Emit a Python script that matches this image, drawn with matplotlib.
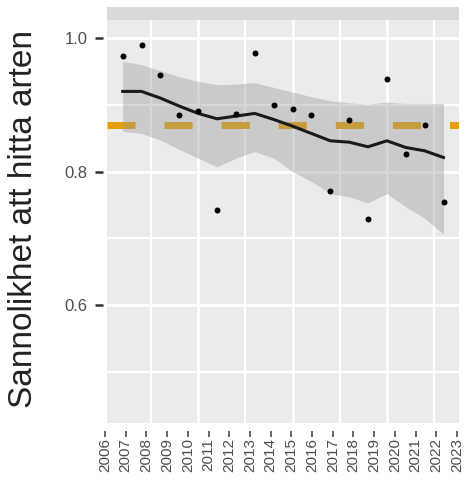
import matplotlib
matplotlib.use("Agg")
import matplotlib.pyplot as plt

plt.rcParams["font.family"] = ["Liberation Sans", "DejaVu Sans"]
plt.rcParams["lines.scale_dashes"] = False

# Yearly detection probability with fitted trend and confidence band
years = list(range(2006, 2024))
observed = [0.973, 0.990, 0.944, 0.884, 0.891, 0.742, 0.886, 0.978, 0.900,
            0.894, 0.884, 0.771, 0.877, 0.729, 0.939, 0.826, 0.869, 0.754]
trend = [0.920, 0.920, 0.910, 0.898, 0.887, 0.879, 0.883, 0.887, 0.878,
         0.868, 0.857, 0.846, 0.844, 0.837, 0.846, 0.836, 0.831, 0.821]
upper = [0.965, 0.960, 0.951, 0.942, 0.935, 0.930, 0.931, 0.933, 0.926,
         0.919, 0.912, 0.906, 0.903, 0.901, 0.904, 0.902, 0.902, 0.902]
lower = [0.860, 0.857, 0.847, 0.833, 0.820, 0.807, 0.820, 0.830, 0.820,
         0.800, 0.785, 0.767, 0.762, 0.753, 0.767, 0.747, 0.730, 0.706]
reference_level = 0.87

y_ticks = [0.6, 0.8, 1.0]
y_ticklabels = ["0.6", "0.8", "1.0"]
y_minor = [0.5, 0.7, 0.9]
x_major = [2010, 2015, 2020]
x_minor = [2007.5, 2012.5, 2017.5, 2022.5]
year_labels = [str(y) for y in years]
y_title = "Sannolikhet att hitta arten"

W, H = 468, 480
fig = plt.figure(figsize=(W / 100, H / 100), dpi=100)
fig.patch.set_facecolor("white")


def box(x0, y0, x1, y1):
    """Pixel box (top-left origin) to figure fractions."""
    return [x0 / W, 1 - y1 / H, (x1 - x0) / W, (y1 - y0) / H]


ylim = (0.4232, 1.027)

# Main panel
ax = fig.add_axes(box(107, 20, 459, 423))
ax.set_facecolor("#EBEBEB")
for s in ax.spines.values():
    s.set_visible(False)
ax.set_xlim(2005.17, 2023.82)
ax.set_ylim(*ylim)
ax.set_xticks(x_major)
ax.set_xticks(x_minor, minor=True)
ax.set_yticks(y_ticks)
ax.set_yticks(y_minor, minor=True)
ax.tick_params(which="both", length=0, labelbottom=False, labelleft=False)
ax.grid(which="major", color="white", lw=1.8)
ax.grid(which="minor", color="white", lw=1.6)
ax.set_axisbelow(True)

ax.axhline(reference_level, color="#E69F00", lw=5, ls=(0, (20.2, 20.9)),
           solid_capstyle="butt", dash_capstyle="butt", zorder=2)
ax.fill_between(years, lower, upper, color="#999999", alpha=0.4, lw=0, zorder=3)
ax.plot(years, trend, color="#1A1A1A", lw=2.2, zorder=4)
ax.plot(years, observed, "o", color="black", ms=4.3, mec="none", zorder=5)

# Strip above the panel
strip = fig.add_axes(box(107, 7, 459, 20))
strip.set_facecolor("#D9D9D9")
strip.set_xticks([])
strip.set_yticks([])
for s in strip.spines.values():
    s.set_visible(False)

# Year labels along the bottom
xa = fig.add_axes(box(94.65, 430, 467.35, 430.5))
xa.patch.set_visible(False)
for s in xa.spines.values():
    s.set_visible(False)
xa.set_xlim(2005.5, 2023.5)
xa.set_xticks(years)
xa.set_xticklabels(year_labels, rotation=90, fontsize=11, color="#4D4D4D")
xa.set_yticks([])
xa.tick_params(axis="x", direction="out", length=4, width=1.2,
               color="#4D4D4D", pad=1.5)

# Probability labels along the left
ya = fig.add_axes(box(102.5, 20, 103, 423))
ya.patch.set_visible(False)
for s in ya.spines.values():
    s.set_visible(False)
ya.set_ylim(*ylim)
ya.set_yticks(y_ticks)
ya.set_yticklabels(y_ticklabels, fontsize=12, color="#4D4D4D")
ya.set_xticks([])
ya.tick_params(axis="y", direction="out", length=5.8, width=1.8,
               color="#333333", pad=5)

fig.text(23.5 / W, 1 - 219 / H, y_title, rotation=90, fontsize=24,
         color="#222222", ha="center", va="center")

fig.savefig("out.png", dpi=100)
